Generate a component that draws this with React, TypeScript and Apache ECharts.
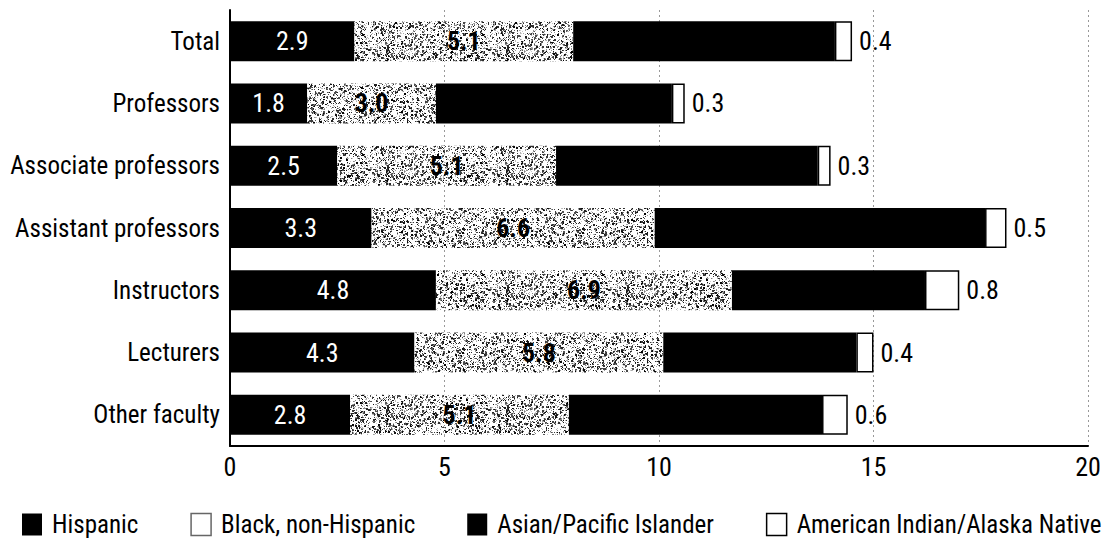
import React, { useEffect, useRef } from "react";
import * as echarts from "echarts";

const categories = [
  "Total",
  "Professors",
  "Associate professors",
  "Assistant professors",
  "Instructors",
  "Lecturers",
  "Other faculty",
];
const hispanic = [2.9, 1.8, 2.5, 3.3, 4.8, 4.3, 2.8];
const black = [5.1, 3.0, 5.1, 6.6, 6.9, 5.8, 5.1];
const asian = [6.1, 5.5, 6.1, 7.7, 4.5, 4.5, 5.9];
const amInd = [0.4, 0.3, 0.3, 0.5, 0.8, 0.4, 0.6];
const xTicks = [0, 5, 10, 15, 20];

const FONT = "'Roboto Condensed', 'Roboto', sans-serif";

function makeTexture(): HTMLCanvasElement {
  const size = 120;
  const c = document.createElement("canvas");
  c.width = size;
  c.height = size;
  const ctx = c.getContext("2d")!;
  ctx.fillStyle = "#ffffff";
  ctx.fillRect(0, 0, size, size);
  let seed = 987654;
  const rnd = () => {
    seed = (seed * 1103515245 + 12345) & 0x7fffffff;
    return seed / 0x7fffffff;
  };
  for (let i = 0; i < 2600; i++) {
    const x = Math.floor(rnd() * size);
    const y = Math.floor(rnd() * size);
    const s = rnd() < 0.25 ? 2 : 1;
    const g = Math.floor(rnd() * 90);
    ctx.fillStyle = `rgb(${g},${g},${g})`;
    ctx.fillRect(x, y, s, s);
  }
  for (let i = 0; i < 2200; i++) {
    const x = Math.floor(rnd() * size);
    const y = Math.floor(rnd() * size);
    const g = Math.floor(120 + rnd() * 90);
    ctx.fillStyle = `rgb(${g},${g},${g})`;
    ctx.fillRect(x, y, 1, 1);
  }
  return c;
}

export default function App() {
  const ref = useRef<HTMLDivElement>(null);
  useEffect(() => {
    if (!ref.current) return;
    const chart = echarts.init(ref.current, undefined, { renderer: "svg" });
    const tex = makeTexture();
    const numFont = { fontFamily: FONT, fontSize: 26 };
    chart.setOption({
      animation: false,
      backgroundColor: "#ffffff",
      textStyle: { fontFamily: FONT },
      grid: { left: 230, right: 26, top: 10, bottom: 103, containLabel: false },
      legend: {
        top: 512,
        left: 22,
        right: 0,
        padding: 0,
        itemWidth: 20,
        itemHeight: 22,
        itemGap: 52,
        textStyle: {
          fontFamily: FONT,
          fontSize: 25,
          lineHeight: 24,
          color: "#000",
          padding: [0, 0, 0, 5],
        },
        data: [
          { name: "Hispanic", icon: "rect", itemStyle: { color: "#000" } },
          {
            name: "Black, non-Hispanic",
            icon: "rect",
            itemStyle: { color: "#fff", borderColor: "#666", borderWidth: 1.5 },
          },
          { name: "Asian/Pacific Islander", icon: "rect", itemStyle: { color: "#000" } },
          {
            name: "American Indian/Alaska Native",
            icon: "rect",
            itemStyle: { color: "#fff", borderColor: "#000", borderWidth: 1.5 },
          },
        ],
      },
      xAxis: {
        type: "value",
        min: 0,
        max: 20,
        interval: 5,
        axisLine: { show: true, lineStyle: { color: "#000", width: 2 } },
        axisTick: { show: false },
        axisLabel: {
          fontFamily: FONT,
          fontSize: 26,
          color: "#000",
          margin: 8,
          formatter: (v: number) => (xTicks.includes(v) ? String(v) : ""),
        },
        splitLine: {
          show: true,
          lineStyle: { color: "#999", type: [2, 3], width: 1 },
        },
      },
      yAxis: {
        type: "category",
        inverse: true,
        data: categories,
        axisLine: { show: true, lineStyle: { color: "#000", width: 2 } },
        axisTick: { show: false },
        axisLabel: { fontFamily: FONT, fontSize: 25, color: "#000", margin: 10 },
      },
      series: [
        {
          name: "Hispanic",
          type: "bar",
          stack: "s",
          barWidth: 40,
          data: hispanic,
          itemStyle: { color: "#000" },
          label: {
            show: true,
            position: "inside",
            ...numFont,
            color: "#fff",
            formatter: (p: any) => p.value.toFixed(1),
          },
        },
        {
          name: "Black, non-Hispanic",
          type: "bar",
          stack: "s",
          data: black,
          itemStyle: {
            color: { image: tex, repeat: "repeat" } as any,
          },
          label: {
            show: true,
            position: "inside",
            ...numFont,
            fontWeight: "bold",
            color: "#000",
            formatter: (p: any) => p.value.toFixed(1),
          },
        },
        {
          name: "Asian/Pacific Islander",
          type: "bar",
          stack: "s",
          data: asian,
          itemStyle: { color: "#000" },
        },
        {
          name: "American Indian/Alaska Native",
          type: "bar",
          stack: "s",
          data: amInd,
          itemStyle: { color: "#fff", borderColor: "#000", borderWidth: 1.5 },
          label: {
            show: true,
            position: "right",
            distance: 7,
            ...numFont,
            color: "#000",
            formatter: (p: any) => p.value.toFixed(1),
          },
        },
      ],
    });
    return () => chart.dispose();
  }, []);
  return <div ref={ref} style={{ width: 1114, height: 549, margin: -8 }} />;
}
